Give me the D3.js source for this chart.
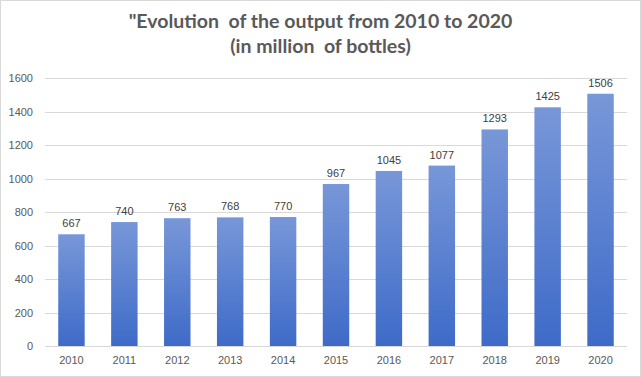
<!DOCTYPE html>
<html>
<head>
  <meta charset="utf-8">
  <style>
    body { margin: 0; background: #fff; }
    svg { display: block; }
  </style>
</head>
<body>
  <div id="chart"></div>
  <script src="https://d3js.org/d3.v7.min.js"></script>
  <script>
    var years = ['2010', '2011', '2012', '2013', '2014', '2015', '2016', '2017', '2018', '2019', '2020'];
    var output = [667, 740, 763, 768, 770, 967, 1045, 1077, 1293, 1425, 1506];
    var yTicks = [0, 200, 400, 600, 800, 1000, 1200, 1400, 1600];
    var titleLines = ['"Evolution  of the output from 2010 to 2020', '(in million  of bottles)'];

    var W = 641, H = 377;
    var margin = {top: 78, right: 14, bottom: 31, left: 45};
    var width = W - margin.left - margin.right,
        height = H - margin.top - margin.bottom;

    var svg = d3.select('#chart').append('svg')
        .attr('width', W)
        .attr('height', H);

    // outer border
    svg.append('rect')
        .attr('x', 0.5).attr('y', 0.5)
        .attr('width', W - 1).attr('height', H - 1)
        .attr('fill', '#fff')
        .attr('stroke', '#d9d9d9');

    var defs = svg.append('defs');
    var grad = defs.append('linearGradient')
        .attr('id', 'barGrad')
        .attr('x1', 0).attr('y1', 0).attr('x2', 0).attr('y2', 1);
    grad.append('stop').attr('offset', '0%').attr('stop-color', '#7897d8');
    grad.append('stop').attr('offset', '100%').attr('stop-color', '#3e6bc8');

    svg.selectAll('text.title')
        .data(titleLines)
        .enter().append('text')
        .attr('class', 'title')
        .attr('x', W / 2)
        .attr('y', (d, i) => 28 + i * 25)
        .attr('text-anchor', 'middle')
        .attr('fill', '#595959')
        .style('white-space', 'pre')
        .style('font-family', 'Lato, "Open Sans", sans-serif')
        .style('font-size', '19.5px')
        .style('font-weight', 'bold')
        .text(d => d);

    var g = svg.append('g')
        .attr('transform', 'translate(' + margin.left + ',' + margin.top + ')');

    var x = d3.scaleBand()
        .domain(years)
        .range([0, width])
        .paddingInner(0.5)
        .paddingOuter(0.25);

    var y = d3.scaleLinear()
        .domain([0, 1600])
        .range([height, 0]);

    // gridlines
    g.append('g')
        .selectAll('line')
        .data(yTicks)
        .enter().append('line')
        .attr('x1', 0).attr('x2', width)
        .attr('y1', d => Math.round(y(d)) + 0.5)
        .attr('y2', d => Math.round(y(d)) + 0.5)
        .attr('stroke', '#d9d9d9');

    var yAxis = g.append('g')
        .call(d3.axisLeft(y).tickValues(yTicks).tickFormat(d3.format('d')).tickSize(0).tickPadding(12));
    yAxis.select('.domain').remove();
    yAxis.selectAll('text')
        .attr('fill', '#595959')
        .style('font-family', '"Liberation Sans", Arial, sans-serif')
        .style('font-size', '11px');

    var xAxis = g.append('g')
        .attr('transform', 'translate(0,' + height + ')')
        .call(d3.axisBottom(x).tickSize(0).tickPadding(10));
    xAxis.select('.domain').remove();
    xAxis.selectAll('text')
        .attr('fill', '#595959')
        .style('font-family', '"Liberation Sans", Arial, sans-serif')
        .style('font-size', '11px');

    var data = years.map((yr, i) => ({year: yr, value: output[i]}));

    g.selectAll('rect.bar')
        .data(data)
        .enter().append('rect')
        .attr('class', 'bar')
        .attr('x', d => x(d.year))
        .attr('y', d => y(d.value))
        .attr('width', x.bandwidth())
        .attr('height', d => height - y(d.value))
        .attr('fill', 'url(#barGrad)');

    g.selectAll('text.val')
        .data(data)
        .enter().append('text')
        .attr('class', 'val')
        .attr('x', d => x(d.year) + x.bandwidth() / 2)
        .attr('y', d => y(d.value) - 7)
        .attr('text-anchor', 'middle')
        .attr('fill', '#404040')
        .style('font-family', '"Liberation Sans", Arial, sans-serif')
        .style('font-size', '11px')
        .text(d => d.value);
  </script>
</body>
</html>
